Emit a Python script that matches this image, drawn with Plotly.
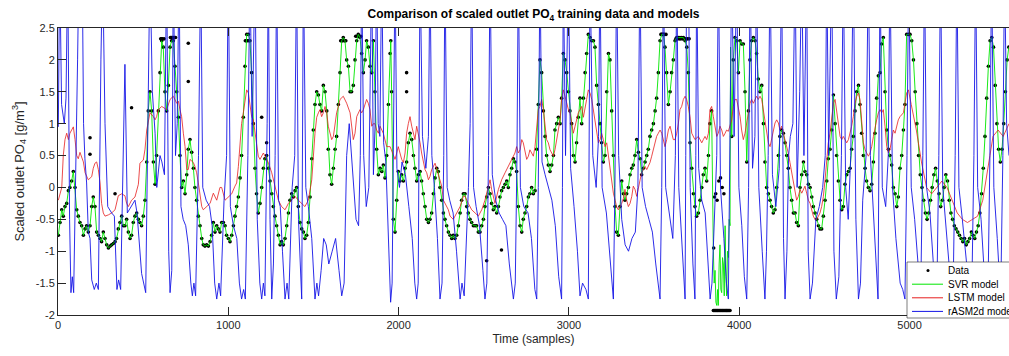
import plotly.graph_objects as go

# ---- Data (black dots): (sample, value) ----
data_main = [
(2,-0.75),(12,-0.55),(22,-0.35),(31,-0.45),(41,-0.3),(51,-0.25),(61,-0.05),(70,0.0),(80,0.1),(90,0.25),
(100,0.0),(110,-0.35),(119,-0.45),(129,-0.55),(139,-0.6),(149,-0.75),(159,-0.65),(168,-0.6),(178,-0.7),(188,-0.6),
(198,-0.3),(207,-0.15),(217,-0.3),(227,-0.7),(237,-0.75),(247,-0.8),(256,-0.85),(266,-0.7),(276,-0.8),(286,-0.9),
(296,-0.95),(306,-0.92),(315,-0.9),(325,-0.88),(335,-0.85),(344,-0.8),(354,-0.65),(364,-0.55),(374,-0.45),(384,-0.6),
(393,-0.6),(403,-0.5),(413,-0.7),(423,-0.8),(432,-0.75),(442,-0.55),(452,-0.45),(462,-0.4),(472,-0.5),(481,-0.55),
(491,-0.6),(501,-0.45),(511,-0.2),(521,0.4),(530,1.2),(540,1.5),(550,1.2),(560,0.4),(570,0.05),(579,0.5),
(589,1.2),(599,1.8),(609,2.3),(618,2.2),(628,1.5),(638,1.2),(648,1.6),(658,2.2),(667,2.3),(677,2.3),
(687,1.9),(697,1.5),(707,1.1),(716,0.5),(726,0.0),(736,0.1),(746,-0.1),(756,0.2),(765,0.6),(775,0.75),
(785,0.55),(795,0.3),(804,0.0),(814,-0.2),(824,-0.45),(834,-0.6),(844,-0.8),(853,-0.9),(863,-0.92),(873,-0.9),
(883,-0.92),(893,-0.85),(902,-0.75),(912,-0.55),(922,-0.7),(932,-0.6),(941,-0.65),(951,-0.7),(961,-0.55),(971,-0.55),
(981,-0.6),(990,-0.75),(1000,-0.8),(1010,-0.85),(1020,-0.75),(1030,-0.6),(1039,-0.45),(1049,-0.3),(1059,-0.15),(1069,0.15),
(1078,0.5),(1088,1.1),(1098,1.9),(1108,2.4),(1118,2.4),(1127,2.3),(1137,1.8),(1147,1.0),(1157,0.3),(1166,-0.1),
(1176,-0.4),(1186,-0.25),(1196,0.0),(1206,0.3),(1215,0.45),(1225,0.5),(1235,0.3),(1245,0.1),(1255,-0.1),(1264,-0.3),
(1274,-0.45),(1284,-0.6),(1294,-0.75),(1304,-0.9),(1313,-0.85),(1323,-0.9),(1333,-0.8),(1343,-0.6),(1353,-0.4),(1362,-0.2),
(1372,-0.1),(1382,-0.15),(1392,-0.05),(1401,0.0),(1411,-0.3),(1421,-0.55),(1431,-0.65),(1441,-0.7),(1450,-0.8),(1460,-0.75),
(1470,-0.55),(1480,-0.15),(1490,0.45),(1499,0.9),(1509,1.3),(1519,1.5),(1529,1.45),(1538,1.3),(1548,1.2),(1558,1.6),
(1568,1.5),(1578,1.2),(1587,0.6),(1597,0.2),(1607,0.05),(1617,0.3),(1627,0.6),(1636,0.8),(1646,1.3),(1656,1.8),
(1666,2.3),(1675,2.35),(1685,2.3),(1695,2.0),(1705,1.9),(1715,1.5),(1724,1.5),(1734,1.6),(1744,2.0),(1754,2.3),
(1763,2.4),(1773,2.35),(1783,2.1),(1793,1.8),(1803,2.0),(1812,2.3),(1822,2.2),(1832,1.9),(1842,1.8),(1852,2.3),
(1861,1.5),(1871,0.6),(1881,0.2),(1891,0.3),(1901,0.25),(1910,0.35),(1920,0.15),(1930,0.5),(1940,1.3),(1950,2.1),
(1954,2.3),(1959,1.5),(1969,-0.5),(1979,-0.7),(1989,-0.2),(1998,0.25),(2008,0.1),(2018,0.2),(2028,0.1),(2038,0.3),
(2047,0.4),(2057,0.7),(2067,0.85),(2077,0.75),(2087,0.5),(2096,0.3),(2106,0.1),(2116,0.2),(2126,0.25),(2135,0.1),
(2145,-0.1),(2155,-0.3),(2165,-0.5),(2175,-0.55),(2184,-0.5),(2194,-0.4),(2204,-0.1),(2214,0.15),(2224,0.3),(2233,0.25),
(2243,0.0),(2253,-0.2),(2263,-0.4),(2272,-0.5),(2282,-0.6),(2292,-0.7),(2302,-0.75),(2312,-0.8),(2321,-0.75),(2331,-0.8),
(2341,-0.75),(2351,-0.6),(2361,-0.4),(2370,-0.2),(2380,-0.1),(2390,-0.1),(2400,-0.3),(2409,-0.4),(2419,-0.5),(2429,-0.55),
(2439,-0.6),(2449,-0.6),(2458,-0.6),(2468,-0.7),(2478,-0.7),(2488,-0.6),(2498,-0.5),(2507,-0.3),(2517,-0.15),(2527,0.0),
(2537,-0.1),(2546,-0.25),(2556,-0.35),(2566,-0.3),(2576,-0.4),(2586,-0.3),(2595,-0.15),(2605,-0.05),(2615,0.0),(2625,0.05),
(2635,0.1),(2644,0.0),(2654,0.2),(2664,0.3),(2674,0.45),(2683,0.4),(2693,0.25),(2703,-0.3),(2713,-0.6),(2723,-0.7),
(2732,-0.5),(2742,-0.4),(2752,-0.3),(2762,-0.15),(2771,-0.1),(2781,0.0),(2791,-0.1),(2801,-0.05),(2811,0.6),(2820,1.3),
(2830,2.0),(2840,1.8),(2850,1.2),(2860,0.8),(2869,0.5),(2879,0.35),(2889,0.25),(2899,0.35),(2909,0.5),(2918,0.9),
(2928,1.0),(2938,1.1),(2948,1.0),(2957,1.4),(2967,2.1),(2977,2.0),(2987,1.8),(2997,1.5),(3006,1.2),(3016,1.0),
(3026,0.5),(3036,0.4),(3045,0.7),(3055,1.1),(3065,1.4),(3075,1.0),(3085,1.4),(3095,1.8),(3104,2.1),(3114,2.4),
(3124,2.35),(3134,2.3),(3144,2.3),(3153,2.2),(3163,1.6),(3173,1.3),(3183,1.0),(3192,0.7),(3202,0.4),(3212,0.5),
(3222,1.5),(3232,2.1),(3241,2.0),(3251,1.2),(3261,0.5),(3271,-0.3),(3280,-0.7),(3290,-0.75),(3300,-0.3),(3310,0.1),
(3320,-0.1),(3329,-0.2),(3339,-0.1),(3349,0.0),(3359,0.2),(3369,0.3),(3378,0.35),(3388,0.5),(3398,0.75),(3408,0.55),
(3418,0.45),(3427,0.2),(3437,0.3),(3447,0.4),(3457,0.5),(3466,0.6),(3476,0.8),(3486,0.9),(3496,1.0),(3506,1.2),
(3515,1.4),(3525,1.8),(3535,2.3),(3545,2.4),(3555,2.4),(3564,2.2),(3574,1.8),(3584,1.3),(3594,1.5),(3603,1.8),
(3613,2.0),(3623,2.3),(3633,2.35),(3643,2.35),(3652,2.35),(3662,2.35),(3672,2.35),(3682,2.3),(3692,2.2),(3701,1.8),
(3711,0.7),(3721,0.3),(3731,-0.1),(3740,-0.3),(3750,-0.45),(3760,-0.4),(3770,-0.2),(3780,0.0),(3789,0.2),(3799,0.3),
(3809,0.1),(3819,0.5),(3828,1.0),(3838,1.2),(3848,-1.93),(3858,-1.93),(3868,-1.93),(3877,-1.93),(3887,-1.93),(3897,-1.93),
(3907,-1.93),(3917,-1.93),(3926,-1.93),(3936,-1.93),(3946,-1.93),(3956,0.8),(3965,2.0),(3975,2.35),(3985,2.3),(3995,1.8),
(4005,2.3),(4014,2.25),(4024,2.25),(4034,1.5),(4044,0.4),(4054,1.2),(4063,2.0),(4073,2.3),(4083,2.35),(4093,2.3),
(4102,2.1),(4112,1.7),(4122,1.5),(4132,1.6),(4142,1.0),(4151,0.4),(4161,0.0),(4171,-0.1),(4181,-0.2),(4190,-0.3),
(4200,-0.4),(4210,-0.35),(4220,0.0),(4230,0.5),(4239,0.8),(4249,0.9),(4259,0.85),(4269,0.7),(4279,0.5),(4288,0.3),
(4298,0.0),(4308,-0.2),(4318,-0.4),(4328,-0.4),(4337,-0.55),(4347,-0.6),(4357,0.0),(4367,0.2),(4377,0.4),(4386,0.25),
(4396,0.2),(4406,0.05),(4416,0.0),(4426,-0.15),(4435,-0.3),(4445,-0.4),(4455,-0.5),(4465,-0.6),(4474,-0.65),(4484,-0.65),
(4494,-0.45),(4504,-0.2),(4514,0.1),(4523,0.45),(4533,0.6),(4543,0.9),(4553,1.45),(4563,1.0),(4572,0.5),(4582,0.1),
(4592,-0.2),(4602,-0.35),(4611,-0.3),(4621,0.05),(4631,0.2),(4641,0.25),(4651,0.3),(4660,0.6),(4670,0.8),(4680,1.2),
(4690,1.5),(4700,1.6),(4709,1.3),(4719,0.85),(4729,0.5),(4739,0.3),(4748,0.1),(4758,0.0),(4768,-0.05),(4778,0.05),
(4788,0.4),(4797,0.85),(4807,1.4),(4817,1.75),(4827,1.8),(4836,2.25),(4846,2.35),(4856,1.5),(4866,0.9),(4876,0.6),
(4885,0.5),(4895,0.35),(4905,0.0),(4915,-0.1),(4925,-0.3),(4934,-0.15),(4944,0.3),(4954,0.5),(4964,0.9),(4973,1.3),
(4983,2.4),(4993,2.4),(5003,2.4),(5013,2.3),(5023,2.0),(5033,1.5),(5043,1.0),(5053,0.5),(5063,0.2),(5073,0.0),
(5083,-0.2),(5093,-0.4),(5103,-0.5),(5113,-0.4),(5123,-0.2),(5133,0.0),(5143,0.2),(5153,0.3),(5163,0.1),(5173,-0.1),
(5183,-0.3),(5193,-0.2),(5203,0.0),(5213,0.2),(5223,0.1),(5233,-0.2),(5243,-0.4),(5253,-0.5),(5263,-0.6),(5273,-0.65),
(5283,-0.7),(5293,-0.75),(5303,-0.8),(5313,-0.85),(5323,-0.8),(5333,-0.9),(5343,-0.85),(5353,-0.8),(5363,-0.7),(5373,-0.75),
(5383,-0.8),(5393,-0.7),(5403,-0.6),(5413,-0.4),(5423,-0.1),(5433,0.3),(5443,0.8),(5453,1.4),(5463,1.9),(5473,2.3),
(5483,2.35),(5493,2.2),(5503,1.6),(5513,1.0),(5523,0.6),(5533,0.4),(5543,0.6),(5553,1.0),(5563,1.5),(5573,2.0),(5583,2.2)]

# saturated stretches and isolated outliers of the data
data_extra = [
(603,2.33),(608,2.33),(613,2.33),(623,2.33),(660,2.35),(665,2.35),(670,2.35),(675,2.35),(680,2.35),(685,2.35),(690,2.35),
(1100,2.3),(1105,2.3),(1113,2.3),(1122,2.3),(1660,2.3),(1670,2.3),(1680,2.3),(1690,2.3),
(1748,2.37),(1758,2.37),(1768,2.37),(1778,2.37),(3540,2.4),(3550,2.4),(3560,2.4),(3570,2.4),
(3628,2.33),(3638,2.33),(3648,2.33),(3657,2.33),(3667,2.33),(3677,2.33),(3687,2.33),(3697,2.33),(3706,2.33),
(3853,-1.93),(3863,-1.93),(3872,-1.93),(3882,-1.93),(3892,-1.93),(3902,-1.93),(3912,-1.93),(3922,-1.93),(3931,-1.93),(3941,-1.93),
(3850,-0.95),(3855,-0.15),(3862,-0.1),(3870,-0.2),(3880,0.1),(3890,0.15),(3900,0.0),(3910,-0.1),
(188,0.78),(188,0.52),(335,-0.1),(432,1.25),(765,2.26),(765,1.66),(1196,1.1),(1225,0.7),(2047,1.8),(2047,1.5),(2604,-0.98),(2517,-1.15)]

# ---- SVR model (green): follows the data except for the deep excursion near 3850-3950 ----
svr_dip = [
(3843,-0.6),(3848,-1.0),(3853,-1.5),(3858,-1.3),(3863,-1.8),(3868,-1.85),(3873,-1.6),(3877,-1.85),(3882,-1.2),
(3887,-0.9),(3892,-1.6),(3897,-1.65),(3902,-1.1),(3907,-1.2),(3912,-1.7),(3917,-0.6),(3922,-1.4),(3926,-1.7),
(3931,-1.0),(3936,-1.1),(3941,-0.5),(3946,-0.6),(3949,2.2)]
svr_points = sorted([p for p in data_main if not 3843 <= p[0] <= 3950] + svr_dip)

# ---- LSTM model (red) ----
lstm_points = [
(2,-0.2),(22,0.0),(31,0.5),(41,0.75),(51,0.85),(61,0.75),(70,0.85),(90,0.95),(100,0.75),(110,0.5),(119,0.45),(129,0.55),
(149,0.4),(159,0.23),(178,0.12),(198,0.17),(207,0.3),(217,0.38),(227,0.4),(237,0.28),(247,0.07),(256,-0.25),(266,-0.4),
(276,-0.45),(296,-0.43),(315,-0.4),(335,-0.35),(344,-0.25),(354,-0.13),(374,-0.1),(393,-0.13),(403,-0.25),(413,-0.3),
(432,-0.2),(452,-0.15),(472,0.05),(481,0.38),(501,0.43),(511,0.6),(521,0.9),(530,1.06),(540,1.17),(560,1.11),(570,1.06),
(579,1.11),(589,1.22),(609,1.27),(638,1.22),(658,1.38),(677,1.43),(697,1.32),(707,1.35),(716,1.22),(726,1.11),(736,0.85),
(746,0.64),(756,0.28),(765,0.28),(775,0.44),(795,0.39),(804,0.33),(814,0.23),(824,0.07),(834,-0.09),(844,-0.3),(853,-0.35),
(873,-0.3),(893,-0.25),(912,-0.09),(922,-0.15),(932,-0.2),(951,0.0),(961,0.0),(981,-0.2),(1000,-0.15),(1020,-0.1),
(1039,0.02),(1049,0.07),(1059,0.33),(1069,0.7),(1078,1.0),(1088,1.17),(1098,1.38),(1108,1.53),(1118,1.48),(1127,1.32),
(1137,1.11),(1147,1.06),(1157,0.85),(1166,0.64),(1176,0.49),(1186,0.44),(1206,0.54),(1225,0.44),(1235,0.39),(1255,0.23),
(1274,0.02),(1294,-0.2),(1313,-0.3),(1333,-0.35),(1353,-0.25),(1372,-0.2),(1392,-0.14),(1411,-0.2),(1431,-0.25),(1450,-0.3),
(1470,-0.2),(1490,0.12),(1509,0.85),(1519,1.1),(1529,1.17),(1538,1.22),(1548,1.11),(1558,1.17),(1568,1.27),(1578,1.17),
(1587,0.96),(1597,0.85),(1607,0.75),(1617,0.8),(1627,1.0),(1636,1.17),(1646,1.27),(1656,1.38),(1675,1.43),(1695,1.32),
(1715,1.17),(1724,0.96),(1734,0.75),(1744,0.85),(1754,1.11),(1773,1.22),(1783,1.17),(1793,1.22),(1803,1.32),(1812,1.38),
(1822,1.32),(1832,1.22),(1842,0.96),(1852,1.0),(1861,1.0),(1871,0.9),(1881,0.85),(1891,0.96),(1910,0.85),(1930,0.64),
(1950,0.64),(1969,0.49),(1979,0.44),(1989,0.54),(1998,0.64),(2018,0.44),(2028,0.39),(2038,0.54),(2047,0.85),(2057,1.0),
(2067,1.11),(2077,0.96),(2087,0.85),(2096,0.75),(2106,0.96),(2116,0.85),(2126,0.7),(2135,0.54),(2145,0.39),(2155,0.28),
(2165,0.23),(2175,0.12),(2184,0.17),(2194,0.28),(2214,0.38),(2224,0.28),(2243,0.12),(2253,0.02),(2263,-0.2),(2272,-0.25),
(2282,-0.3),(2292,-0.35),(2302,-0.45),(2321,-0.5),(2341,-0.4),(2361,-0.3),(2380,-0.14),(2390,-0.14),(2409,-0.25),(2429,-0.35),
(2449,-0.4),(2468,-0.45),(2488,-0.35),(2507,-0.2),(2527,0.02),(2537,0.12),(2546,-0.03),(2566,-0.25),(2586,-0.03),(2605,0.12),
(2625,0.23),(2644,0.33),(2664,0.44),(2683,0.54),(2693,0.64),(2703,0.54),(2713,0.59),(2723,0.75),(2732,0.7),(2742,0.54),
(2752,0.44),(2762,0.49),(2771,0.59),(2781,0.54),(2791,0.49),(2801,0.64),(2811,0.96),(2820,1.22),(2830,1.27),(2840,1.38),
(2850,1.22),(2860,0.96),(2869,0.75),(2879,0.7),(2889,0.59),(2899,0.54),(2909,0.49),(2918,0.59),(2928,0.75),(2938,0.85),
(2948,1.06),(2957,1.38),(2967,1.53),(2977,1.43),(2987,1.32),(2997,1.22),(3006,1.17),(3016,1.0),(3026,0.85),(3036,0.96),
(3045,1.06),(3055,1.17),(3065,1.22),(3075,1.27),(3085,1.1),(3095,1.22),(3104,1.38),(3114,1.53),(3124,1.48),(3134,1.38),
(3144,1.22),(3153,1.06),(3163,0.85),(3173,0.7),(3183,0.75),(3192,0.85),(3202,0.75),(3212,0.64),(3222,0.7),(3232,0.49),
(3241,0.28),(3251,0.07),(3261,-0.09),(3271,-0.2),(3280,-0.3),(3290,-0.35),(3300,-0.3),(3310,-0.25),(3320,-0.17),(3329,-0.03),
(3339,-0.2),(3349,-0.3),(3359,-0.25),(3369,-0.14),(3378,0.02),(3388,-0.03),(3398,-0.14),(3408,-0.03),(3418,0.12),(3427,0.23),
(3437,0.28),(3447,0.33),(3457,0.28),(3476,0.39),(3486,0.49),(3496,0.59),(3506,0.7),(3515,0.8),(3525,0.85),(3535,0.9),
(3545,0.85),(3555,0.75),(3564,0.64),(3574,0.75),(3584,0.9),(3594,0.96),(3603,0.85),(3613,0.75),(3623,0.75),(3633,0.85),
(3643,1.01),(3652,1.22),(3662,1.27),(3672,1.38),(3682,1.43),(3691,1.38),(3701,1.27),(3711,1.11),(3721,0.85),(3731,0.8),
(3740,0.75),(3760,0.8),(3770,0.75),(3780,0.7),(3789,0.75),(3799,0.8),(3809,0.75),(3819,0.85),(3828,1.22),(3838,1.27),
(3848,1.11),(3858,0.96),(3868,0.8),(3877,0.85),(3887,0.96),(3897,0.9),(3907,0.8),(3917,0.85),(3926,0.9),(3936,0.88),
(3946,0.96),(3956,1.06),(3965,1.27),(3975,1.38),(3985,1.38),(3995,1.27),(4005,1.11),(4014,0.9),(4024,0.75),(4034,0.85),
(4044,1.01),(4054,1.17),(4063,1.32),(4073,1.38),(4083,1.32),(4093,1.38),(4102,1.43),(4112,1.38),(4122,1.43),(4132,1.38),
(4142,1.22),(4151,1.06),(4161,0.85),(4171,0.7),(4181,0.64),(4190,0.75),(4200,0.85),(4210,1.01),(4220,1.06),(4230,1.01),
(4239,0.9),(4249,0.96),(4259,0.85),(4269,0.75),(4279,0.64),(4288,0.54),(4298,0.39),(4308,0.23),(4318,0.12),(4328,-0.09),
(4337,-0.2),(4347,-0.14),(4357,-0.03),(4367,-0.09),(4377,-0.03),(4386,0.02),(4396,-0.09),(4406,-0.2),(4416,-0.25),(4426,-0.35),
(4435,-0.45),(4445,-0.5),(4455,-0.5),(4465,-0.45),(4474,-0.4),(4484,-0.3),(4494,-0.14),(4504,0.12),(4514,0.49),(4523,0.7),
(4533,0.85),(4543,1.06),(4553,1.32),(4563,1.38),(4572,1.17),(4582,0.96),(4592,0.8),(4602,0.75),(4611,0.8),(4621,0.75),
(4631,0.7),(4641,0.75),(4651,0.85),(4660,0.96),(4670,1.11),(4680,1.32),(4690,1.43),(4700,1.48),(4709,1.38),(4719,0.96),
(4729,0.7),(4739,0.59),(4748,0.54),(4758,0.49),(4768,0.54),(4778,0.64),(4788,0.8),(4797,0.96),(4807,1.06),(4817,1.17),
(4827,1.22),(4836,1.17),(4846,1.22),(4856,0.96),(4866,0.64),(4876,0.54),(4885,0.59),(4895,0.75),(4905,0.9),(4915,0.85),
(4925,0.96),(4934,1.06),(4944,1.11),(4964,1.17),(4983,1.48),(4993,1.53),(5010,1.3),(5040,0.9),(5070,0.4),(5100,0.0),
(5130,-0.1),(5160,0.0),(5190,0.1),(5220,0.0),(5250,-0.2),(5280,-0.4),(5310,-0.5),(5340,-0.55),(5370,-0.5),(5400,-0.45),
(5430,-0.2),(5460,0.3),(5490,0.8),(5520,0.9),(5550,0.8),(5584,1.0)]

# ---- rASM2d model (blue) ----
asm_points = [
(2,0.95),(10,3.5),(21,1.3),(37,1.0),(47,1.4),(57,3.5),(68,-0.5),(76,-1.65),(84,-1.4),(92,-1.65),(115,2.0),(123,3.5),
(142,3.5),(150,1.0),(158,0.45),(168,0.07),(178,-0.7),(188,-0.8),(198,-1.45),(213,-1.6),(225,-1.5),(237,-1.6),(252,2.0),
(262,3.5),(276,1.0),(292,-0.3),(315,-0.4),(331,-0.45),(346,-1.6),(356,-1.45),(368,-1.6),(393,1.93),(407,-0.4),(428,-0.3),
(452,-0.2),(464,-0.4),(491,-1.35),(515,-1.65),(530,2.0),(540,3.5),(554,1.5),(570,0.85),(580,0.0),(599,0.5),(610,0.4),
(625,0.2),(638,3.5),(650,-1.0),(658,-1.65),(668,-1.3),(677,3.5),(690,0.5),(700,1.0),(711,3.5),(722,-0.3),(735,-0.5),
(750,-0.6),(765,-0.9),(780,-1.5),(789,-1.7),(798,-1.5),(808,-1.7),(825,0.5),(838,3.5),(850,0.0),(870,-0.2),(890,-0.3),
(905,-0.6),(920,-1.5),(932,-1.75),(945,-1.5),(955,-1.7),(975,-0.2),(990,0.5),(1000,3.5),(1012,-0.3),(1030,-0.6),(1050,-0.8),
(1065,-1.5),(1078,-1.75),(1090,-1.6),(1100,-1.75),(1115,0.5),(1127,3.5),(1140,0.8),(1157,3.5),(1170,-0.5),(1185,-1.5),
(1196,-1.75),(1206,-1.5),(1215,-1.7),(1228,1.0),(1235,3.5),(1245,-0.5),(1255,-1.75),(1265,-1.2),(1275,0.5),(1284,3.5),
(1295,-0.2),(1305,-0.3),(1318,-1.0),(1333,-1.75),(1345,-1.5),(1355,-1.75),(1375,0.0),(1390,0.5),(1401,3.5),(1412,-0.5),
(1431,-1.75),(1438,1.0),(1441,3.5),(1455,0.0),(1470,-0.3),(1490,-0.8),(1509,-1.75),(1520,-1.5),(1530,-1.7),(1545,-1.3),
(1560,-0.8),(1575,-0.9),(1590,-1.2),(1610,-1.0),(1630,-0.8),(1650,-1.3),(1666,-1.7),(1680,-1.5),(1695,0.5),(1710,1.0),
(1730,0.3),(1750,-0.5),(1765,-0.6),(1775,0.5),(1783,3.5),(1795,0.5),(1810,-0.3),(1825,0.0),(1842,3.5),(1852,0.2),
(1862,1.0),(1871,3.5),(1880,1.0),(1890,0.8),(1901,3.5),(1912,0.7),(1925,0.4),(1940,-1.0),(1953,-1.8),(1962,-1.5),
(1970,0.5),(1979,3.5),(1990,0.3),(2005,0.0),(2020,0.4),(2040,0.2),(2060,-0.3),(2080,-0.8),(2095,-1.5),(2106,-1.75),
(2115,-1.5),(2126,3.5),(2140,0.8),(2160,0.3),(2175,0.8),(2184,3.5),(2195,0.5),(2210,0.0),(2228,-0.8),(2243,-1.75),
(2255,-1.5),(2265,0.5),(2272,3.5),(2285,0.0),(2300,-0.2),(2320,-0.4),(2340,-1.0),(2361,-1.75),(2372,-1.5),(2385,-1.7),
(2410,0.0),(2420,1.0),(2429,3.5),(2440,0.0),(2455,-0.3),(2475,-0.6),(2495,-1.3),(2507,-1.75),(2518,-1.5),(2528,0.5),
(2537,3.5),(2550,0.2),(2570,-0.2),(2590,-0.4),(2610,-0.5),(2630,-0.6),(2650,-1.2),(2665,-1.6),(2674,-1.75),(2685,-1.5),
(2695,0.5),(2703,3.5),(2715,0.0),(2735,-0.3),(2760,-0.4),(2780,-0.8),(2800,-1.6),(2811,-1.75),(2820,0.0),(2830,3.5),
(2842,0.4),(2860,0.2),(2880,0.0),(2900,-0.2),(2920,-0.6),(2940,-1.4),(2957,-1.75),(2962,0.0),(2967,3.5),(2980,0.5),
(2997,3.5),(3010,0.3),(3030,-0.3),(3050,-1.0),(3065,-1.7),(3080,-1.5),(3100,-1.6),(3114,-1.75),(3124,3.5),(3140,0.5),
(3160,0.0),(3174,0.8),(3182,3.5),(3195,0.0),(3220,-0.4),(3245,-1.2),(3261,-1.75),(3270,0.0),(3280,3.5),(3292,0.5),
(3310,-0.5),(3330,-0.9),(3350,-1.0),(3370,-0.8),(3390,-0.7),(3405,0.0),(3417,3.5),(3430,0.0),(3450,-0.3),(3470,-0.5),
(3490,-0.7),(3510,-1.2),(3525,-1.6),(3535,-1.75),(3545,0.0),(3555,3.5),(3568,0.0),(3590,-0.4),(3610,-0.8),(3625,0.5),
(3633,3.5),(3645,0.0),(3660,-0.8),(3675,-1.6),(3682,-1.75),(3686,0.5),(3691,3.5),(3702,3.5),(3712,0.0),(3728,-1.2),
(3740,-1.75),(3745,0.5),(3750,3.5),(3762,0.3),(3780,-0.2),(3800,-0.4),(3815,-1.2),(3829,-1.75),(3840,-1.5),(3855,-0.5),
(3868,0.5),(3878,3.5),(3890,0.0),(3910,-0.8),(3925,-1.5),(3936,-1.75),(3946,0.5),(3956,3.5),(3970,0.8),(3985,3.5),
(3998,0.0),(4015,-0.6),(4030,-1.4),(4044,-1.75),(4055,0.0),(4064,3.5),(4078,0.3),(4092,0.8),(4102,3.5),(4115,0.0),
(4135,-1.0),(4151,-1.75),(4160,-1.0),(4170,0.5),(4181,3.5),(4195,0.2),(4215,-0.3),(4235,0.3),(4249,3.5),(4260,-0.8),
(4269,-1.75),(4280,-1.0),(4290,0.5),(4300,0.8),(4315,1.0),(4328,3.5),(4340,0.0),(4355,1.5),(4367,3.5),(4380,0.5),
(4396,3.5),(4405,-1.0),(4416,-1.75),(4430,-1.5),(4450,-0.5),(4470,-0.3),(4490,0.0),(4505,0.5),(4514,3.5),(4525,0.5),
(4543,3.5),(4556,-1.0),(4570,-1.75),(4585,-1.4),(4600,0.5),(4611,3.5),(4625,0.0),(4640,-0.5),(4655,0.5),(4670,3.5),
(4685,-0.5),(4700,-1.75),(4712,-1.5),(4725,-0.2),(4745,0.5),(4758,3.5),(4770,0.5),(4790,-0.5),(4805,-1.2),(4815,-1.75),
(4827,3.5),(4840,0.0),(4860,-0.3),(4875,0.5),(4885,3.5),(4900,0.0),(4920,-0.8),(4945,-1.5),(4960,-1.6),(4973,-1.75),
(4985,0.5),(4995,3.5),(5010,0.0),(5030,-0.5),(5050,-1.2),(5065,-1.75),(5078,0.5),(5088,3.5),(5100,0.0),(5120,-0.4),
(5140,-1.2),(5160,-1.75),(5172,0.5),(5182,3.5),(5195,0.0),(5215,-0.6),(5235,-1.3),(5255,-1.75),(5268,0.5),(5278,3.5),
(5290,0.0),(5310,-0.5),(5330,-1.0),(5350,-1.6),(5365,-1.75),(5378,0.5),(5388,3.5),(5400,0.0),(5420,-0.5),(5440,-1.4),
(5460,-1.75),(5472,0.5),(5482,3.5),(5495,0.0),(5515,-0.8),(5535,-1.75),(5548,0.5),(5558,3.5),(5570,1.0),(5584,0.5)]

x_ticks = [0, 1000, 2000, 3000, 4000, 5000]
x_tick_labels = ["0", "1000", "2000", "3000", "4000", "5000"]
y_ticks = [-2, -1.5, -1, -0.5, 0, 0.5, 1, 1.5, 2, 2.5]
y_tick_labels = ["-2", "-1.5", "-1", "-0.5", "0", "0.5", "1", "1.5", "2", "2.5"]
legend_names = ["Data", "SVR model", "LSTM model", "rASM2d model"]

FONT = "Liberation Sans, Arial, Helvetica, sans-serif"
AX = "#262626"
C_DATA, C_SVR, C_LSTM, C_ASM = "black", "rgb(0,230,0)", "rgb(230,30,30)", "rgb(20,20,230)"

def xs(p): return [a for a, b in p]
def ys(p): return [b for a, b in p]

all_data = sorted(data_main + data_extra)

fig = go.Figure()
fig.add_trace(go.Scatter(x=xs(all_data), y=ys(all_data), mode="markers", name=legend_names[0],
                         marker=dict(color=C_DATA, size=3.6, line=dict(width=0))))
fig.add_trace(go.Scatter(x=xs(svr_points), y=ys(svr_points), mode="lines", name=legend_names[1],
                         line=dict(color=C_SVR, width=0.9)))
fig.add_trace(go.Scatter(x=xs(lstm_points), y=ys(lstm_points), mode="lines", name=legend_names[2],
                         line=dict(color=C_LSTM, width=0.8)))
fig.add_trace(go.Scatter(x=xs(asm_points), y=ys(asm_points), mode="lines", name=legend_names[3],
                         line=dict(color=C_ASM, width=0.9)))

# legend box (MATLAB style, placed in the lower right corner of the axes)
PW, PH = 951.0, 287.0
def px(xp): return (xp - 58) / PW
def py(yp): return (315 - yp) / PH
shapes = [dict(type="rect", xref="paper", yref="paper", x0=px(907), x1=px(1015), y0=py(318), y1=py(262),
               fillcolor="white", line=dict(color=AX, width=0.6), layer="above")]
annotations = []
row_y = [270.5, 284.2, 297.8, 311.4]
colors = [C_DATA, C_SVR, C_LSTM, C_ASM]
for i, name in enumerate(legend_names):
    if i == 0:
        shapes.append(dict(type="circle", xref="paper", yref="paper", xsizemode="pixel", ysizemode="pixel",
                           xanchor=px(928), yanchor=py(row_y[i]), x0=-1.5, x1=1.5, y0=-1.5, y1=1.5,
                           fillcolor=C_DATA, line=dict(width=0), layer="above"))
    else:
        shapes.append(dict(type="line", xref="paper", yref="paper", x0=px(912), x1=px(943),
                           y0=py(row_y[i]), y1=py(row_y[i]), line=dict(color=colors[i], width=1), layer="above"))
    annotations.append(dict(text=name, xref="paper", yref="paper", x=px(946), y=py(row_y[i]),
                            xanchor="left", yanchor="middle", showarrow=False,
                            font=dict(family=FONT, size=10, color="black")))

fig.update_layout(
    width=1009, height=356,
    margin=dict(l=58, r=0, t=28, b=41, autoexpand=False),
    paper_bgcolor="white", plot_bgcolor="white",
    font=dict(family=FONT, size=11, color=AX),
    showlegend=False,
    shapes=shapes, annotations=annotations,
    title=dict(text="<b>Comparison of scaled outlet PO<sub>4</sub> training data and models</b>",
               x=0.5, xref="paper", xanchor="center", y=1 - 14 / 356, yref="container", yanchor="middle",
               font=dict(family=FONT, size=12, color="black")),
    xaxis=dict(range=[0, 5584], tickvals=x_ticks, ticktext=x_tick_labels, ticks="inside", ticklen=8,
               tickcolor=AX, showline=True, linecolor=AX, linewidth=1, mirror="ticks", showgrid=False,
               zeroline=False, tickfont=dict(size=11, color=AX),
               title=dict(text="Time (samples)", font=dict(size=12, color=AX), standoff=4)),
    yaxis=dict(range=[-2, 2.5], tickvals=y_ticks, ticktext=y_tick_labels, ticks="inside", ticklen=8,
               tickcolor=AX, showline=True, linecolor=AX, linewidth=1, mirror=False, showgrid=False,
               zeroline=False, tickfont=dict(size=11, color=AX),
               title=dict(text="Scaled outlet PO<sub>4</sub> [g/m<sup>3</sup>]", font=dict(size=13, color=AX), standoff=8)),
)

fig.write_html("out.html", config={"displayModeBar": False},
               post_script="document.body.style.margin='0';document.body.style.overflow='hidden';")
